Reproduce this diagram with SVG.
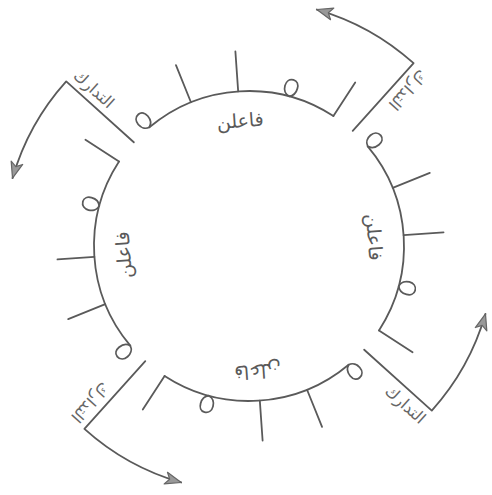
<svg xmlns="http://www.w3.org/2000/svg" xmlns:xlink="http://www.w3.org/1999/xlink" width="492" height="495" viewBox="0 0 492 495">
<style>
.ln{fill:none;stroke:#5a5a5a;stroke-width:1.8;stroke-linecap:round;stroke-linejoin:round}
.foot{font-family:"DejaVu Sans","Noto Sans",sans-serif;font-size:19px;fill:#5a5a5a;text-anchor:middle;dominant-baseline:central}
.lab{font-family:"DejaVu Sans","Noto Sans",sans-serif;font-size:16px;fill:#666;text-anchor:middle;dominant-baseline:central}
</style>
<defs>
<path id="loop" class="ln" d="M0,0 C-9,-2 -9,-17 0,-17 C8,-17 8,-3 0,0 Z"/>
<marker id="ah" viewBox="0 0 18 14" refX="17" refY="7" markerWidth="18" markerHeight="14" markerUnits="userSpaceOnUse" orient="auto">
<path d="M1,1 L17,7 L1,13 L5,7 Z" fill="#999" stroke="#666" stroke-width="1.2" stroke-linejoin="round"/>
</marker>
</defs>
<rect width="492" height="495" fill="#fff"/>

<g id="foot-top">
<path class="ln" d="M149.37,127.27 A155,155 0 0 1 333.41,116.0"/>
<use xlink:href="#loop" href="#loop" transform="translate(149.37,127.27) rotate(-40)"/>
<line class="ln" x1="190.94" y1="102.28" x2="175.95" y2="65.20"/>
<line class="ln" x1="238.18" y1="91.37" x2="235.39" y2="51.47"/>
<use xlink:href="#loop" href="#loop" transform="translate(289.11,96.29) rotate(15)"/>
<line class="ln" x1="333.41" y1="116.0" x2="355.2" y2="82.45"/>
<text class="foot" transform="translate(240.2,120.3) rotate(-4)">فاعلن</text>
</g>

<g id="foot-right">
<path class="ln" d="M367.73,146.37 A155,155 0 0 1 379.0,330.41"/>
<use xlink:href="#loop" href="#loop" transform="translate(367.73,146.37) rotate(50)"/>
<line class="ln" x1="392.72" y1="187.94" x2="429.80" y2="172.95"/>
<line class="ln" x1="403.63" y1="235.18" x2="443.53" y2="232.39"/>
<use xlink:href="#loop" href="#loop" transform="translate(398.71,286.11) rotate(105)"/>
<line class="ln" x1="379.0" y1="330.41" x2="412.55" y2="352.2"/>
<text class="foot" transform="translate(374.7,237.2) rotate(86)">فاعلن</text>
</g>

<g id="foot-bottom">
<path class="ln" d="M348.63,364.73 A155,155 0 0 1 164.59,376.0"/>
<use xlink:href="#loop" href="#loop" transform="translate(348.63,364.73) rotate(140)"/>
<line class="ln" x1="307.06" y1="389.72" x2="322.05" y2="426.80"/>
<line class="ln" x1="259.82" y1="400.63" x2="262.61" y2="440.53"/>
<use xlink:href="#loop" href="#loop" transform="translate(208.89,395.71) rotate(195)"/>
<line class="ln" x1="164.59" y1="376.0" x2="142.8" y2="409.55"/>
<text class="foot" transform="translate(257.8,371.7) rotate(176)">فاعلن</text>
</g>

<g id="foot-left">
<path class="ln" d="M130.27,345.63 A155,155 0 0 1 119.0,161.59"/>
<use xlink:href="#loop" href="#loop" transform="translate(130.27,345.63) rotate(230)"/>
<line class="ln" x1="105.28" y1="304.06" x2="68.20" y2="319.05"/>
<line class="ln" x1="94.37" y1="256.82" x2="57.47" y2="259.40"/>
<use xlink:href="#loop" href="#loop" transform="translate(99.29,205.89) rotate(285)"/>
<line class="ln" x1="119.0" y1="161.59" x2="85.45" y2="139.8"/>
<text class="foot" transform="translate(123.3,254.8) rotate(-94)">فاعلن</text>
</g>

<g id="connectors">
<path class="ln" d="M352.71,130.82 L413.60,63.20 A246,246 0 0 0 316.80,9.52" marker-end="url(#ah)"/>
<path class="ln" d="M364.18,349.71 L431.80,410.60 A246,246 0 0 0 485.48,313.80" marker-end="url(#ah)"/>
<path class="ln" d="M145.29,361.18 L84.40,428.80 A246,246 0 0 0 181.20,482.48" marker-end="url(#ah)"/>
<path class="ln" d="M133.82,142.29 L66.20,81.40 A246,246 0 0 0 12.52,178.20" marker-end="url(#ah)"/>
<text class="lab" transform="translate(408,90) rotate(132)">التدارك</text>
<text class="lab" transform="translate(405.5,404.5) rotate(42)">التدارك</text>
<text class="lab" transform="translate(90.5,402.5) rotate(132)">التدارك</text>
<text class="lab" transform="translate(94,89) rotate(42)">التدارك</text>
</g>
</svg>
